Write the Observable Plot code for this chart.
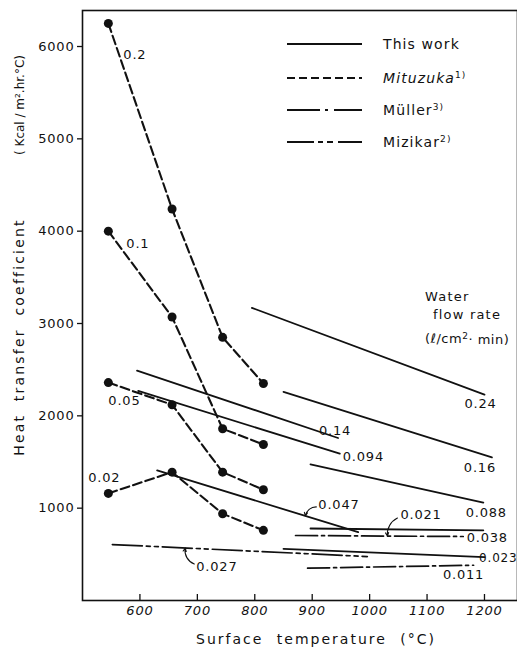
<!DOCTYPE html>
<html>
<head>
<meta charset="utf-8">
<script src="https://cdn.jsdelivr.net/npm/d3@7"></script>
<script src="https://cdn.jsdelivr.net/npm/@observablehq/plot@0.6"></script>
<style>
  html, body { margin: 0; padding: 0; background: #fff; }
  #chart { width: 517px; height: 648px; overflow: hidden; }
</style>
</head>
<body>
<div id="chart"></div>
<script>
// ---------------- data ----------------
const temperatureTicks = [600, 700, 800, 900, 1000, 1100, 1200];
const heatTicks = [1000, 2000, 3000, 4000, 5000, 6000];

// Mituzuka: measured points (dashed lines with dots)
const mituzukaRates = ["0.2", "0.1", "0.05", "0.02"];
const mituzukaTemps = [545, 656, 744, 815];
const mituzuka_0_2 = [6250, 4240, 2850, 2350];
const mituzuka_0_1 = [4000, 3070, 1860, 1690];
const mituzuka_0_05 = [2360, 2120, 1390, 1200];
const mituzuka_0_02 = [1160, 1390, 940, 760];
const mituzukaValues = [mituzuka_0_2, mituzuka_0_1, mituzuka_0_05, mituzuka_0_02];

// This work: straight solid lines (start / end)
const thisWorkRates = ["0.24", "0.16", "0.14", "0.094", "0.088", "0.047", "0.038", "0.023"];
const thisWorkT1 = [795, 850, 595, 597, 897, 630, 897, 850];
const thisWorkH1 = [3170, 2260, 2490, 2270, 1475, 1410, 780, 560];
const thisWorkT2 = [1200, 1213, 945, 948, 1198, 980, 1198, 1200];
const thisWorkH2 = [2230, 1550, 1760, 1590, 1060, 740, 760, 470];

// Müller: dash-dot lines
const mullerRates = ["0.021", "0.011"];
const mullerT1 = [871, 892];
const mullerH1 = [704, 350];
const mullerT2 = [1163, 1181];
const mullerH2 = [693, 382];

// Mizikar: long-short-short dashed line
const mizikarRates = ["0.027"];
const mizikarT1 = [552];
const mizikarH1 = [606];
const mizikarT2 = [996];
const mizikarH2 = [476];

const legendNames = ["This work", "Mituzuka", "Müller", "Mizikar"];
const legendRefs = ["", "1)", "3)", "2)"];

// ---------------- layout ----------------
const W = 517, H = 648;
const M = {top: 10, right: 0, bottom: 48, left: 82};
const xDomain = [500, 1257.5];
const yDomain = [0, 6390];
const kx = (W - M.left - M.right) / (xDomain[1] - xDomain[0]);
const ky = (H - M.top - M.bottom) / (yDomain[1] - yDomain[0]);
const INK = "#111";

// build tables
const mituzukaData = mituzukaRates.flatMap((rate, i) =>
  mituzukaTemps.map((t, j) => ({rate, t, h: mituzukaValues[i][j]})));
const segs = (rates, T1, H1, T2, H2) => rates.flatMap((rate, i) => [
  {rate, t: T1[i], h: H1[i]}, {rate, t: T2[i], h: H2[i]}]);
const thisWorkData = segs(thisWorkRates, thisWorkT1, thisWorkH1, thisWorkT2, thisWorkH2);
const mullerData = segs(mullerRates, mullerT1, mullerH1, mullerT2, mullerH2);
const mizikarData = segs(mizikarRates, mizikarT1, mizikarH1, mizikarT2, mizikarH2);
const allData = [...mituzukaData, ...thisWorkData, ...mullerData, ...mizikarData];

const pointOf = (rate, which) => {
  const pts = allData.filter(d => d.rate === rate);
  return which === "start" ? pts[0] : pts[pts.length - 1];
};
const onLine = (rate, t) => {
  const pts = allData.filter(d => d.rate === rate);
  const [a, b] = [pts[0], pts[pts.length - 1]];
  return {t, h: a.h + (b.h - a.h) * (t - a.t) / (b.t - a.t)};
};

// label placement (pixel offsets)
const endLabels = [
  ["0.2", "start", 15, 31, "start"],
  ["0.1", "start", 18, 13, "start"],
  ["0.05", "start", 0, 18, "start"],
  ["0.02", "start", -4, -16, "middle"],
  ["0.24", "end", -4, 9, "middle"],
  ["0.16", "end", -12, 10, "middle"],
  ["0.14", "end", -3, -7, "middle"],
  ["0.094", "end", 3, 3, "start"],
  ["0.088", "end", 3, 10, "middle"],
  ["0.038", "end", 4, 8, "middle"],
  ["0.023", "end", 33, 1, "end"],
  ["0.011", "end", -10, 10, "middle"]
];
// arrow labels: rate, temperature pointed at, label dx, dy, tail dx, dy, bend
const arrowLabels = [
  ["0.047", 888, 13, -11, 11, -9, -40],
  ["0.021", 1031, 13, -21, 10, -18, -35],
  ["0.027", 679, 11, 19, 9, 16, 40]
];

const labelMarks = endLabels.map(([rate, which, dx, dy, anchor]) =>
  Plot.text([pointOf(rate, which)], {x: "t", y: "h", text: () => rate, dx, dy,
    textAnchor: anchor, fontSize: rate === "0.023" ? 12 : 13, fill: INK}));

const arrowMarks = arrowLabels.flatMap(([rate, t, ldx, ldy, tdx, tdy, bend]) => {
  const tip = onLine(rate, t);
  const tail = {t: tip.t + tdx / kx, h: tip.h - tdy / ky};
  return [
    Plot.text([tip], {x: "t", y: "h", text: () => rate, dx: ldx, dy: ldy,
      textAnchor: "start", fontSize: 13, fill: INK}),
    Plot.arrow([{x1: tail.t, y1: tail.h, x2: tip.t, y2: tip.h}],
      {x1: "x1", y1: "y1", x2: "x2", y2: "y2", bend, headLength: 5, headAngle: 50,
       stroke: INK, strokeWidth: 1.1})
  ];
});

const tickLen = 6; // px, inward ticks on the temperature axis

const chart = Plot.plot({
  width: W, height: H,
  marginTop: M.top, marginRight: M.right, marginBottom: M.bottom, marginLeft: M.left,
  x: {domain: xDomain, label: null},
  y: {domain: yDomain, label: null},
  style: "font-family: 'DejaVu Sans', sans-serif; font-size: 13px; letter-spacing: 0.8px; color: #111; background: #fff; overflow: hidden;",
  marks: [
    Plot.frame({stroke: INK, strokeWidth: 1.6}),
    Plot.axisY({ticks: heatTicks, tickFormat: d => String(d), tickSize: 5, tickPadding: 3,
      fontSize: 13, stroke: INK, strokeWidth: 1.3}),
    Plot.axisX({ticks: temperatureTicks, tickFormat: d => String(d), tickSize: 0, tickPadding: 5,
      fontSize: 13, fontStyle: "italic"}),
    Plot.ruleX(temperatureTicks, {x: d => d, y1: 0, y2: tickLen / ky, stroke: INK, strokeWidth: 1.3}),
    Plot.line(thisWorkData, {x: "t", y: "h", z: "rate", stroke: INK, strokeWidth: 1.8}),
    Plot.line(mituzukaData, {x: "t", y: "h", z: "rate", stroke: INK,
      strokeWidth: 2.1, strokeDasharray: "9,4"}),
    Plot.dot(mituzukaData, {x: "t", y: "h", r: 4.5, fill: INK}),
    Plot.line(mullerData, {x: "t", y: "h", z: "rate", stroke: INK, strokeWidth: 1.7,
      strokeDasharray: "22,4,3,4"}),
    Plot.line(mizikarData, {x: "t", y: "h", z: "rate", stroke: INK, strokeWidth: 1.7,
      strokeDasharray: "30,4,4,4,4,4"}),
    ...labelMarks,
    ...arrowMarks
  ]
});
document.getElementById("chart").appendChild(chart);

// ---------------- overlay texts & legend ----------------
const svg = d3.select(chart);
const g = svg.append("g").attr("fill", INK).attr("font-family", "'DejaVu Sans', sans-serif")
  .attr("text-anchor", "start");

// legend
const legendDash = ["none", "8,4", "33,5,3,6,30", "27,4,5,4,6,5,24"];
const legendY = [44, 78, 110, 142];
legendNames.forEach((name, i) => {
  g.append("line").attr("x1", 287).attr("x2", 362).attr("y1", legendY[i]).attr("y2", legendY[i])
    .attr("stroke", INK).attr("stroke-width", 1.8)
    .attr("stroke-dasharray", legendDash[i]);
  const t = g.append("text").attr("x", 383).attr("y", legendY[i]).attr("dy", "0.36em")
    .attr("text-anchor", "start")
    .attr("font-size", 14).attr("letter-spacing", "1.1px")
    .attr("font-style", i === 1 ? "italic" : "normal").text(name);
  if (legendRefs[i]) {
    t.append("tspan").attr("dy", "-0.55em").attr("font-size", 9).attr("font-style", "normal")
      .text(legendRefs[i]);
  }
});

// flow rate caption
const cap = [["Water", 425, 296], ["flow rate", 433, 314]];
cap.forEach(([s, x, y]) => g.append("text").attr("x", x).attr("y", y).attr("dy", "0.36em")
  .attr("text-anchor", "start")
  .attr("font-size", 13).attr("letter-spacing", "1.2px").text(s));
const unit = g.append("text").attr("x", 425).attr("y", 338).attr("dy", "0.36em")
  .attr("text-anchor", "start")
  .attr("font-size", 13).attr("letter-spacing", "0.5px");
unit.append("tspan").text("(ℓ/cm");
unit.append("tspan").attr("dy", "-0.45em").attr("font-size", 9).text("2");
unit.append("tspan").attr("dy", "0.45em").text("· min)");

// axis titles
g.append("text").attr("x", 316).attr("y", 639).attr("dy", "0.36em").attr("text-anchor", "middle")
  .attr("font-size", 14).attr("letter-spacing", "2px").attr("word-spacing", "7px")
  .text("Surface temperature (°C)");
g.append("text").attr("transform", "translate(19,337) rotate(-90)").attr("dy", "0.36em")
  .attr("text-anchor", "middle").attr("font-size", 14).attr("letter-spacing", "2.2px")
  .attr("word-spacing", "6px").text("Heat transfer coefficient");
g.append("text").attr("transform", "translate(20,105) rotate(-90)").attr("dy", "0.36em")
  .attr("text-anchor", "middle").attr("font-size", 12).attr("letter-spacing", "0px")
  .text("( Kcal / m².hr.°C)");
</script>
</body>
</html>
